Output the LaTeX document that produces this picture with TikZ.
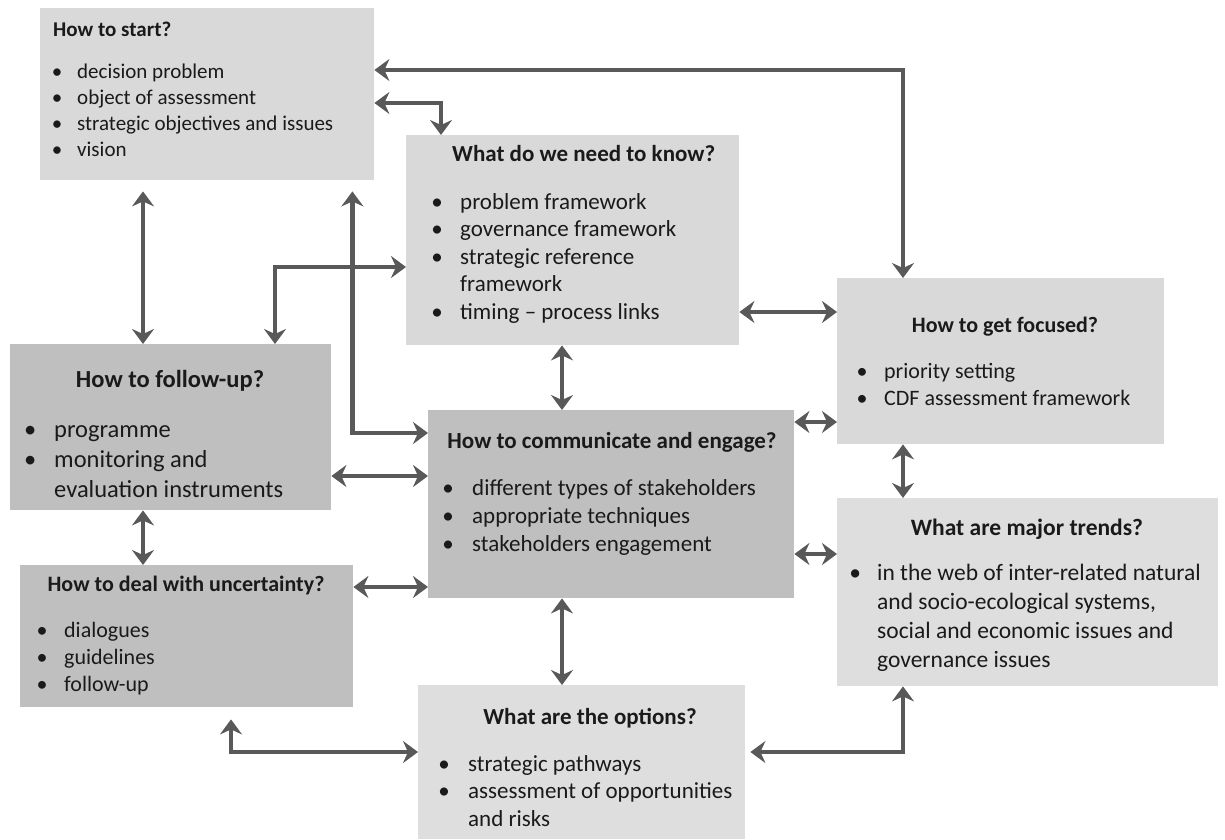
\documentclass[tikz,border=0pt]{standalone}
\usepackage{fontspec}
\setmainfont{Carlito}
\usetikzlibrary{positioning,calc,arrows.meta}
\definecolor{BoxLight}{HTML}{D9D9D9}
\definecolor{BoxPale}{HTML}{DEDEDE}
\definecolor{BoxDark}{HTML}{BFBFBF}
\definecolor{LinkGray}{HTML}{595959}
\definecolor{TextDark}{HTML}{1A1A1A}
\newcommand{\fsz}[2]{\fontsize{#1}{#2}\selectfont}
\newcommand{\itm}[1][22pt]{\makebox[0pt]{\textbullet}\hspace*{#1}}
\newcommand{\cnt}[1][22pt]{\hspace*{#1}}
\tikzset{
  box/.style={rectangle, inner sep=0pt, anchor=north west},
  ttl/.style={inner sep=0pt, anchor=base, text=TextDark},
  lst/.style={inner sep=0pt, anchor=base west, align=left, text=TextDark},
  link/.style={draw=LinkGray, line width=4.5pt,
    {Stealth[length=15pt,width=22pt,inset=5pt]}-{Stealth[length=15pt,width=22pt,inset=5pt]}}
}

\begin{document}
\begin{tikzpicture}[x=1pt,y=-1pt]
  \useasboundingbox (0,0) rectangle (1225,839);

  % How to start?
  \node[box, fill=BoxLight, minimum width=334pt, minimum height=172pt] (start) at (40,8) {};
  \node[ttl, anchor=base west, font={\fsz{21}{25.7}\bfseries}] (start-ttl) at (53,36) {How to start?};
  \node[lst, font=\fsz{21}{25.7}] (start-lst) at (57,156)
    {\itm[20pt]decision problem\\ \itm[20pt]object of assessment\\
     \itm[20pt]strategic objectives and issues\\ \itm[20pt]vision};

  % What do we need to know?
  \node[box, fill=BoxLight, minimum width=333pt, minimum height=210pt] (know) at (406,135) {};
  \node[ttl, anchor=base west, font={\fsz{23}{27.5}\bfseries}] (know-ttl) at (452,161) {What do we need to know?};
  \node[lst, font=\fsz{23}{27.5}] (know-lst) at (437,319)
    {\itm[23pt]problem framework\\ \itm[23pt]governance framework\\
     \itm[23pt]strategic reference\\ \cnt[23pt]framework\\ \itm[23pt]timing -- process links};

  % How to get focused?
  \node[box, fill=BoxLight, minimum width=327pt, minimum height=166pt] (focus) at (837,278) {};
  \node[ttl, font={\fsz{22}{27}\bfseries}] (focus-ttl) at (1005,332.5) {How to get focused?};
  \node[lst, font=\fsz{22}{27}] (focus-lst) at (862,405.5)
    {\itm[22pt]priority setting\\ \itm[22pt]CDF assessment framework};

  % How to follow-up?
  \node[box, fill=BoxDark, minimum width=321pt, minimum height=166pt] (follow) at (10,344) {};
  \node[ttl, font={\fsz{24.5}{30}\bfseries}] (follow-ttl) at (170,387) {How to follow-up?};
  \node[lst, font=\fsz{24.5}{30}] (follow-lst) at (30,497)
    {\itm[24pt]programme\\ \itm[24pt]monitoring and\\ \cnt[24pt]evaluation instruments};

  % How to communicate and engage?
  \node[box, fill=BoxDark, minimum width=366pt, minimum height=188pt] (comm) at (428,410) {};
  \node[ttl, font={\fsz{23}{28}\bfseries}] (comm-ttl) at (612,448) {How to communicate and engage?};
  \node[lst, font=\fsz{23}{28}] (comm-lst) at (448,551)
    {\itm[24pt]different types of stakeholders\\ \itm[24pt]appropriate techniques\\
     \itm[24pt]stakeholders engagement};

  % What are major trends?
  \node[box, fill=BoxPale, minimum width=381pt, minimum height=188pt] (trends) at (837,498) {};
  \node[ttl, font={\fsz{23.5}{28.7}\bfseries}] (trends-ttl) at (1027,535) {What are major trends?};
  \node[lst, font=\fsz{23.5}{28.7}] (trends-lst) at (855,667)
    {\itm[22pt]in the web of inter-related natural\\ \cnt[22pt]and socio-ecological systems,\\
     \cnt[22pt]social and economic issues and\\ \cnt[22pt]governance issues};

  % How to deal with uncertainty?
  \node[box, fill=BoxDark, minimum width=333pt, minimum height=142pt] (doubt) at (20,565) {};
  \node[ttl, font={\fsz{22}{27}\bfseries}] (doubt-ttl) at (186,591.5) {How to deal with uncertainty?};
  \node[lst, font=\fsz{22}{27}] (doubt-lst) at (42,691.5)
    {\itm[22pt]dialogues\\ \itm[22pt]guidelines\\ \itm[22pt]follow-up};

  % What are the options?
  \node[box, fill=BoxPale, minimum width=327pt, minimum height=154pt] (options) at (418,685) {};
  \node[ttl, font={\fsz{23}{27.5}\bfseries}] (options-ttl) at (590,724) {What are the options?};
  \node[lst, font=\fsz{23}{27.5}] (options-lst) at (444,826)
    {\itm[24pt]strategic pathways\\ \itm[24pt]assessment of opportunities\\ \cnt[24pt]and risks};

  % Links
  \draw[link] ([yshift=-62pt]start.north east) -| ([xshift=66pt]focus.north west);
  \draw[link] ([yshift=-95pt]start.north east) -| ([xshift=35pt]know.north west);
  \draw[link] ([xshift=103pt,yshift=-11pt]start.south west) -- ([xshift=133pt]follow.north west);
  \draw[link] ([xshift=-22pt,yshift=-11pt]start.south east) |- ([yshift=-23pt]comm.north west);
  \draw[link] ([yshift=-132pt]know.north west) -| ([xshift=265pt]follow.north west);
  \draw[link] ([xshift=156pt]know.south west) -- ([xshift=134pt]comm.north west);
  \draw[link] ([yshift=-177pt]know.north east) -- ([yshift=-34pt]focus.north west);
  \draw[link] ([yshift=-12pt]comm.north east) -- ([yshift=-144pt]focus.north west);
  \draw[link] ([xshift=66pt]focus.south west) -- ([xshift=66pt]trends.north west);
  \draw[link] ([yshift=-132pt]follow.north east) -- ([yshift=-66pt]comm.north west);
  \draw[link] ([xshift=133pt]follow.south west) -- ([xshift=123pt]doubt.north west);
  \draw[link] ([yshift=-22pt]doubt.north east) -- ([yshift=-177pt]comm.north west);
  \draw[link] ([yshift=-144pt]comm.north east) -- ([yshift=-56pt]trends.north west);
  \draw[link] ([xshift=134pt]comm.south west) -- ([xshift=144pt]options.north west);
  \draw[link] ([xshift=211pt,yshift=-12pt]doubt.south west) |- ([yshift=-67pt]options.north west);
  \draw[link] ([xshift=5pt,yshift=-67pt]options.north east) -| ([xshift=66pt]trends.south west);
\end{tikzpicture}
\end{document}
